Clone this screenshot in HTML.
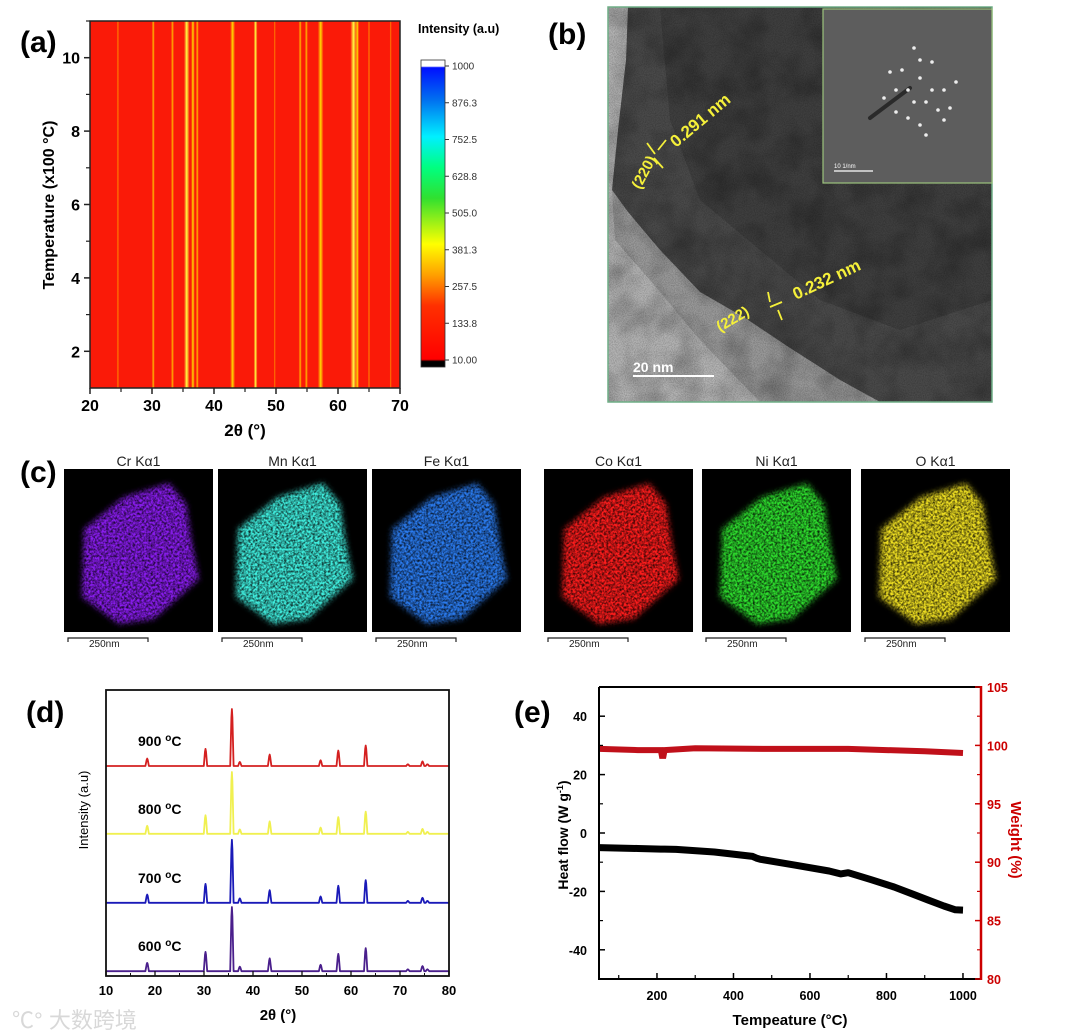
<!DOCTYPE html>
<html><head><meta charset="utf-8">
<style>
html,body{margin:0;padding:0;background:#fff;}
svg{display:block;font-family:"Liberation Sans",Arial,sans-serif;}
</style></head>
<body>
<svg id="fig" width="1080" height="1036" viewBox="0 0 1080 1036" xmlns="http://www.w3.org/2000/svg">
<defs>
  <linearGradient id="cbar" x1="0" y1="1" x2="0" y2="0">
    <stop offset="0" stop-color="#000"/><stop offset="0.018" stop-color="#000"/>
    <stop offset="0.025" stop-color="#ff0000"/><stop offset="0.2" stop-color="#ff3000"/>
    <stop offset="0.3" stop-color="#ffa000"/><stop offset="0.4" stop-color="#ffff00"/>
    <stop offset="0.55" stop-color="#30e030"/><stop offset="0.65" stop-color="#00ff80"/>
    <stop offset="0.75" stop-color="#00f0ff"/><stop offset="0.87" stop-color="#0070f0"/>
    <stop offset="0.975" stop-color="#0010ff"/><stop offset="0.98" stop-color="#fff"/><stop offset="1" stop-color="#fff"/>
  </linearGradient>
  <filter id="tex" x="0" y="0" width="1" height="1">
    <feTurbulence type="fractalNoise" baseFrequency="0.9" numOctaves="2" seed="3" result="n"/>
    <feColorMatrix in="n" type="matrix" values="0 0 0 0 0  0 0 0 0 0  0 0 0 0 0  0 0 0 1.2 -0.4"/>
  </filter>
  <filter id="blob" x="0" y="0" width="1" height="1">
    <feTurbulence type="fractalNoise" baseFrequency="0.03" numOctaves="3" seed="7" result="n"/>
    <feColorMatrix in="n" type="matrix" values="0 0 0 0 0  0 0 0 0 0  0 0 0 0 0  0 0 0 1.4 -0.5"/>
  </filter>
  <filter id="spk" x="-10%" y="-10%" width="120%" height="120%">
    <feGaussianBlur in="SourceGraphic" stdDeviation="3" result="b"/>
    <feTurbulence type="fractalNoise" baseFrequency="0.45" numOctaves="2" seed="5" result="n"/>
    <feColorMatrix in="n" type="matrix" values="0 0 0 0 0  0 0 0 0 0  0 0 0 0 0  0 0 0 1.6 -0.1" result="a"/>
    <feComposite in="b" in2="a" operator="in"/>
  </filter>
</defs>

<text x="20" y="52" font-size="30" font-weight="bold">(a)</text>
<text x="548" y="44" font-size="30" font-weight="bold">(b)</text>
<text x="20" y="482" font-size="30" font-weight="bold">(c)</text>
<text x="26" y="722" font-size="30" font-weight="bold">(d)</text>
<text x="514" y="722" font-size="30" font-weight="bold">(e)</text>

<g id="pa">
  <rect x="90" y="21" width="310" height="367" fill="#fa1a08"/>
  <g id="pa-stripes"></g>
  <rect x="90" y="21" width="310" height="367" fill="none" stroke="#222" stroke-width="1.5"/>
  <g id="pa-axes"></g>
  <text x="245" y="436" font-size="17" font-weight="bold" text-anchor="middle">2θ (°)</text>
  <text transform="translate(54,205) rotate(-90)" font-size="16" font-weight="bold" text-anchor="middle">Temperature (x100 °C)</text>
  <text x="418" y="33" font-size="12.5" font-weight="bold">Intensity (a.u)</text>
  <rect x="421" y="60" width="24" height="307" fill="url(#cbar)" stroke="#333" stroke-width="0.8"/>
  <g id="cbar-ticks"></g>
</g>

<g>
  <clipPath id="bclip"><rect x="608" y="7" width="384" height="395"/></clipPath>
  <g clip-path="url(#bclip)">
    <rect x="608" y="7" width="384" height="395" fill="#b4b4b4"/>
    <polygon points="628,7 992,7 992,402 880,402 840,380 790,348 745,318 700,292 660,250 628,212 612,190 618,130 626,60" fill="#4a4a4a"/>
    <polygon points="660,7 992,7 992,300 900,330 820,300 760,250 700,200 670,120" fill="#3a3a3a" opacity="0.7"/>
    <polygon points="612,190 628,212 660,250 700,292 745,318 790,348 840,380 880,402 760,402 700,340 650,280 615,240" fill="#888" opacity="0.6"/>
    <rect x="608" y="7" width="384" height="395" filter="url(#blob)" opacity="0.35"/>
    <rect x="608" y="7" width="384" height="395" filter="url(#tex)" opacity="0.35"/>
  </g>
  <rect x="608" y="7" width="384" height="395" fill="none" stroke="#6fae86" stroke-width="1.5"/>
  <g>
    <rect x="823" y="9" width="169" height="174" fill="#5d5d5d" stroke="#9cc27c" stroke-width="1.2"/>
    <line x1="870" y1="118" x2="910" y2="88" stroke="#2a2a2a" stroke-width="4" stroke-linecap="round"/>
    <g id="saed-dots" fill="#eee"></g>
    <text x="834" y="168" font-size="6" fill="#fff">10 1/nm</text>
    <line x1="834" y1="171" x2="873" y2="171" stroke="#fff" stroke-width="1.2"/>
  </g>
  <g fill="#f5f03a" stroke="#f5f03a" font-weight="bold">
    <text transform="translate(640,190) rotate(-62)" font-size="15" stroke="none">(220)</text>
    <line x1="647" y1="143" x2="655" y2="154" stroke-width="1.8"/><line x1="658" y1="150" x2="666" y2="140" stroke-width="1.8"/>
    <line x1="654" y1="158" x2="663" y2="168" stroke-width="1.8"/>
    <text transform="translate(676,148) rotate(-40)" font-size="17" stroke="none">0.291 nm</text>
    <text transform="translate(720,332) rotate(-30)" font-size="15" stroke="none">(222)</text>
    <line x1="768" y1="292" x2="770" y2="302" stroke-width="1.8"/><line x1="770" y1="307" x2="782" y2="302" stroke-width="1.8"/>
    <line x1="778" y1="310" x2="782" y2="320" stroke-width="1.8"/>
    <text transform="translate(796,300) rotate(-25)" font-size="17" stroke="none">0.232 nm</text>
  </g>
  <text x="633" y="372" font-size="14" font-weight="bold" fill="#fff">20 nm</text>
  <line x1="633" y1="376" x2="714" y2="376" stroke="#fff" stroke-width="2"/>
</g>

<g id="pc"></g>

<g id="pd">
  <g id="pd-lines"></g>
  <rect x="106" y="690" width="343" height="286" fill="none" stroke="#111" stroke-width="1.8"/>
  <g id="pd-axes"></g>
  <text x="278" y="1020" font-size="15" font-weight="bold" text-anchor="middle">2θ (°)</text>
  <text transform="translate(88,810) rotate(-90)" font-size="13" text-anchor="middle">Intensity (a.u)</text>
</g>
<text x="12" y="1028" font-size="22" fill="#d8d8d8" font-family="'Liberation Sans','Noto Sans CJK SC',sans-serif">℃° 大数跨境</text>

<g id="pe">
  <g id="pe-lines"></g>
  <g id="pe-axes"></g>
  <text x="790" y="1025" font-size="15" font-weight="bold" text-anchor="middle">Tempeature (°C)</text>
  <text transform="translate(568,835) rotate(-90)" font-size="14" font-weight="bold" text-anchor="middle">Heat flow (W g<tspan dy="-5" font-size="9">-1</tspan><tspan dy="5">)</tspan></text>
  <text transform="translate(1011,840) rotate(90)" font-size="15" font-weight="bold" fill="#c00" text-anchor="middle">Weight (%)</text>
</g>

<script>
const NS='http://www.w3.org/2000/svg';
function mk(tag,attrs,parent,txt){const e=document.createElementNS(NS,tag);for(const k in attrs)e.setAttribute(k,attrs[k]);if(txt!==undefined)e.textContent=txt;parent.appendChild(e);return e;}

const aPeakPos=[24.5,30.2,33.3,35.6,36.6,37.3,43.0,46.7,49.8,53.9,54.9,57.2,62.5,63.1,65.0,68.5];
const aPeakInt=[90,150,170,300,200,150,230,330,80,140,160,200,300,220,110,70];
const aPeakWidth=[0.4,0.5,0.5,0.9,0.6,0.5,0.8,0.6,0.3,0.5,0.5,0.9,1.0,0.6,0.4,0.3];
const aXTicks=[20,30,40,50,60,70];
const aYTicks=[2,4,6,8,10];
const cbarLabels=['1000','876.3','752.5','628.8','505.0','381.3','257.5','133.8','10.00'];

const ax=v=>90+(v-20)/50*310;
const ay=v=>388-(v-1)/10*367;
function cmap(v){
  if(v<130) return '#ff7a00';
  if(v<200) return '#ffae00';
  if(v<260) return '#ffd800';
  return '#ffff40';
}
const gS=document.getElementById('pa-stripes');
const defs=document.querySelector('defs');
aPeakPos.forEach((p,i)=>{
  const w=Math.max(2,aPeakWidth[i]/50*310);
  const gid='sg'+i;
  const lg=mk('linearGradient',{id:gid,x1:0,y1:0,x2:1,y2:0},defs);
  const c=cmap(aPeakInt[i]);
  mk('stop',{offset:0,'stop-color':c,'stop-opacity':0},lg);
  mk('stop',{offset:0.5,'stop-color':c,'stop-opacity':1},lg);
  mk('stop',{offset:1,'stop-color':c,'stop-opacity':0},lg);
  const r=mk('rect',{x:ax(p)-w/2,y:21,width:w,height:367,fill:'url(#'+gid+')'},gS);
  
  
});
const gA=document.getElementById('pa-axes');
aXTicks.forEach(t=>{
  mk('line',{x1:ax(t),y1:388,x2:ax(t),y2:394,stroke:'#222','stroke-width':1.5},gA);
  if(t<70) mk('line',{x1:ax(t+5),y1:388,x2:ax(t+5),y2:392,stroke:'#222','stroke-width':1.2},gA);
  const l=mk('text',{x:ax(t),y:411,'font-size':16,'font-weight':'bold','text-anchor':'middle'},gA,String(t));
  
  
});
aYTicks.forEach(t=>{
  mk('line',{x1:84,y1:ay(t),x2:90,y2:ay(t),stroke:'#222','stroke-width':1.5},gA);
  mk('line',{x1:86,y1:ay(t+1),x2:90,y2:ay(t+1),stroke:'#222','stroke-width':1.2},gA);
  const l=mk('text',{x:80,y:ay(t)+6,'font-size':16,'font-weight':'bold','text-anchor':'end'},gA,String(t));
  
  
});
const gC=document.getElementById('cbar-ticks');
cbarLabels.forEach((s,i)=>{
  const y=66+i*(360-66)/8;
  mk('line',{x1:445,y1:y,x2:449,y2:y,stroke:'#333'},gC);
  const l=mk('text',{x:452,y:y+3.5,'font-size':10,fill:'#333'},gC,s);
  
  
});

const saedX=[908,920,932,896,944,914,926,902,938,890,950,920,908,932,884,956,920,896,944,914,926];
const saedY=[90,78,90,90,90,102,102,70,110,72,108,60,118,62,98,82,125,112,120,48,135];
const gD=document.getElementById('saed-dots');
saedX.forEach((x,i)=>{const c=mk('circle',{cx:x,cy:saedY[i],r:1.8},gD);
  });

const eName=['Cr Kα1','Mn Kα1','Fe Kα1','Co Kα1','Ni Kα1','O Kα1'];
const eX=[64,218,372,544,702,861];
const eColor=['#8a1cf0','#3ff0e0','#2a7cf0','#ff1a1a','#2ee02e','#f0e020'];
const pc=document.getElementById('pc');
eName.forEach((n,i)=>{
  const x=eX[i],y=469,w=149,h=163;
  const g=mk('g',{},pc);
  
  
  mk('rect',{x:x,y:y,width:w,height:h,fill:'#000'},g);
  const pts=[[105,14],[60,28],[20,60],[18,128],[55,155],[90,150],[135,110],[128,75],[122,35]].map(p=>(x+p[0])+','+(y+p[1])).join(' ');
  mk('polygon',{points:pts,fill:eColor[i],filter:'url(#spk)'},g);
  mk('text',{x:x+w/2,y:466,'font-size':14,'text-anchor':'middle',fill:'#222'},g,n);
  mk('path',{d:`M${x+4} ${y+h+10} v-4 h80 v4`,fill:'none',stroke:'#222','stroke-width':1.2},g);
  mk('text',{x:x+25,y:y+h+15,'font-size':10,fill:'#222'},g,'250nm');
});

const dPeakPos=[18.4,30.3,35.7,37.3,43.4,53.8,57.4,63.0,71.6,74.6,75.6];
const dRel=[0.13,0.30,1.0,0.07,0.20,0.10,0.27,0.36,0.03,0.08,0.03];
const dSeriesName=['600 °C','700 °C','800 °C','900 °C'];
const dOffset=[8,122,237,350];
const dMain=[107,105,103,95];
const dColor=['#4a1f8c','#1a1ab8','#f0f050','#d42020'];
const dXTicks=[10,20,30,40,50,60,70,80];
const dx=v=>106+(v-10)/70*343;
const dy=v=>976-v*0.6;
const gL=document.getElementById('pd-lines');
dSeriesName.forEach((n,s)=>{
  let pts=[[10,0]];
  dPeakPos.forEach((p,i)=>{pts.push([p-0.35,0],[p-0.1,dRel[i]*dMain[s]*0.85],[p,dRel[i]*dMain[s]],[p+0.1,dRel[i]*dMain[s]*0.85],[p+0.35,0]);});
  pts.push([80,0]);
  const d='M'+pts.map(q=>dx(q[0]).toFixed(1)+' '+dy(q[1]+dOffset[s]).toFixed(1)).join(' L');
  const pth=mk('path',{d:d,fill:'none',stroke:dColor[s],'stroke-width':1.8,'stroke-linejoin':'round'},gL);
  
  
  const t=mk('text',{x:138,y:dy(dOffset[s])-20,'font-size':14,'font-weight':'bold'},gL);
  
  
  mk('tspan',{},t,n.split(' ')[0]+' ');
  mk('tspan',{dy:-5,'font-size':10},t,'o');
  mk('tspan',{dy:5},t,'C');
});
const gDA=document.getElementById('pd-axes');
dXTicks.forEach(t=>{
  mk('line',{x1:dx(t),y1:976,x2:dx(t),y2:971,stroke:'#111','stroke-width':1.3},gDA);
  if(t<80) mk('line',{x1:dx(t+5),y1:976,x2:dx(t+5),y2:973,stroke:'#111'},gDA);
  const l=mk('text',{x:dx(t),y:995,'font-size':13,'font-weight':'bold','text-anchor':'middle'},gDA,String(t));
  
  
});

const eTemp=[50,150,210,215,220,250,350,450,460,470,560,650,680,700,760,820,870,910,950,980,1000];
const eHeat=[-5,-5.3,-5.5,-5.5,-5.5,-5.6,-6.5,-8,-8.6,-9,-11,-13,-14,-13.6,-16,-18.5,-21,-23,-25,-26.3,-26.4];
const wTemp=[50,150,210,213,215,217,220,300,500,700,800,900,1000];
const wVal=[99.7,99.6,99.6,99.1,99.1,99.1,99.6,99.75,99.7,99.7,99.6,99.5,99.35];
const eXTicks=[200,400,600,800,1000];
const eYL=[40,20,0,-20,-40];
const eYR=[80,85,90,95,100,105];
const ex=v=>599.6+(v-50)/1000*382.5;
const eyl=v=>979-(v+50)/100*292;
const eyr=v=>979-(v-80)/25*292;
const gEL=document.getElementById('pe-lines');
let p1=mk('path',{d:'M'+wTemp.map((t,i)=>ex(t).toFixed(1)+' '+eyr(wVal[i]).toFixed(1)).join(' L'),fill:'none',stroke:'#c0101a','stroke-width':6},gEL);


let p2=mk('path',{d:'M'+eTemp.map((t,i)=>ex(t).toFixed(1)+' '+eyl(eHeat[i]).toFixed(1)).join(' L'),fill:'none',stroke:'#000','stroke-width':7,'stroke-linejoin':'round'},gEL);


const gEA=document.getElementById('pe-axes');
mk('line',{x1:599,y1:687,x2:599,y2:980,stroke:'#000','stroke-width':2},gEA);
mk('line',{x1:598,y1:979,x2:981,y2:979,stroke:'#000','stroke-width':2},gEA);
mk('line',{x1:599,y1:687,x2:981,y2:687,stroke:'#000','stroke-width':2},gEA);
mk('line',{x1:981,y1:686,x2:981,y2:980,stroke:'#c00','stroke-width':2.5},gEA);
eXTicks.forEach(t=>{
  mk('line',{x1:ex(t),y1:979,x2:ex(t),y2:973,stroke:'#000','stroke-width':1.5},gEA);
  mk('line',{x1:ex(t-100),y1:979,x2:ex(t-100),y2:975,stroke:'#000','stroke-width':1.2},gEA);
  const l=mk('text',{x:ex(t),y:1000,'font-size':12.5,'font-weight':'bold','text-anchor':'middle'},gEA,String(t));
  
  
});
eYL.forEach(t=>{
  mk('line',{x1:599,y1:eyl(t),x2:605,y2:eyl(t),stroke:'#000','stroke-width':1.5},gEA);
  mk('line',{x1:599,y1:eyl(t-10),x2:603,y2:eyl(t-10),stroke:'#000','stroke-width':1.2},gEA);
  const l=mk('text',{x:587,y:eyl(t)+5,'font-size':12.5,'font-weight':'bold','text-anchor':'end'},gEA,String(t));
  
  
});
eYR.forEach(t=>{
  mk('line',{x1:981,y1:eyr(t),x2:975,y2:eyr(t),stroke:'#c00','stroke-width':1.5},gEA);
  if(t<105) mk('line',{x1:981,y1:eyr(t+2.5),x2:977,y2:eyr(t+2.5),stroke:'#c00','stroke-width':1.2},gEA);
  const l=mk('text',{x:987,y:eyr(t)+5,'font-size':12.5,'font-weight':'bold',fill:'#c00'},gEA,String(t));
  
  
});
</script>
</svg>
</body></html>
